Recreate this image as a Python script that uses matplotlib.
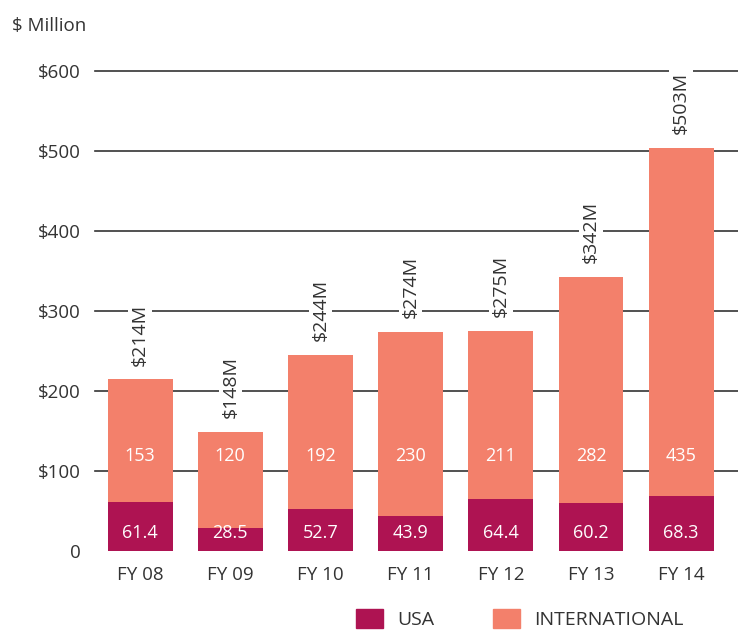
import matplotlib.pyplot as plt
from matplotlib.patches import Patch

years = ['FY 08', 'FY 09', 'FY 10', 'FY 11', 'FY 12', 'FY 13', 'FY 14']
usa = [61.4, 28.5, 52.7, 43.9, 64.4, 60.2, 68.3]
intl = [153, 120, 192, 230, 211, 282, 435]
totals = [214, 148, 244, 274, 275, 342, 503]
yticks = [0, 100, 200, 300, 400, 500, 600]
ytick_labels = ['0', '$100', '$200', '$300', '$400', '$500', '$600']

usa_color = '#AE1352'
intl_color = '#F3806B'
text_color = '#333333'

plt.rcParams['font.family'] = ['Open Sans', 'DejaVu Sans']

fig = plt.figure(figsize=(7.38, 6.31), dpi=100)
ax = fig.add_axes([95 / 738, 80 / 631, 1 - 95 / 738, (551 - 71) / 631])

x = list(range(len(years)))
ax.bar(x, usa, width=0.72, color=usa_color, zorder=3)
ax.bar(x, intl, bottom=usa, width=0.72, color=intl_color, zorder=3)

# gridlines (no line at zero)
for t in yticks[1:]:
    ax.axhline(t, color='#333333', lw=1.2, zorder=1, clip_on=False)

for i in x:
    ax.text(i, 22, f'{usa[i]:.1f}', ha='center', va='center', color='white', fontsize=13, zorder=4)
    ax.text(i, 119, f'{intl[i]}', ha='center', va='center', color='white', fontsize=13, zorder=4)
    ax.annotate(f'${totals[i]}M', xy=(i, usa[i] + intl[i]), xytext=(0, 10), textcoords='offset points',
                rotation=90, ha='center', va='bottom', color=text_color, fontsize=14, zorder=5,
                annotation_clip=False,
                bbox=dict(facecolor='white', edgecolor='none', pad=2))

ax.set_xlim(-0.5, 6.63)
ax.set_ylim(0, 600)
ax.set_xticks(x)
ax.set_xticklabels(years)
ax.set_yticks(yticks)
ax.set_yticklabels(ytick_labels)
ax.tick_params(length=0, labelsize=13.5, labelcolor=text_color)
ax.tick_params(axis='x', pad=11)
ax.tick_params(axis='y', pad=10)
for s in ax.spines.values():
    s.set_visible(False)

fig.text(12 / 738, 1 - 26 / 631, '$ Million', ha='left', va='center', fontsize=13.5, color=text_color)

handles = [Patch(color=usa_color, label='USA'), Patch(color=intl_color, label='INTERNATIONAL')]
fig.legend(handles=handles, loc='center left', bbox_to_anchor=(356 / 738, 1 - 619 / 631), ncol=2,
           frameon=False, fontsize=14, handlelength=1.4, handleheight=1.1, handletextpad=0.72,
           columnspacing=3.0, borderpad=0, borderaxespad=0, labelcolor=text_color)

fig.savefig('out.png', dpi=100)
